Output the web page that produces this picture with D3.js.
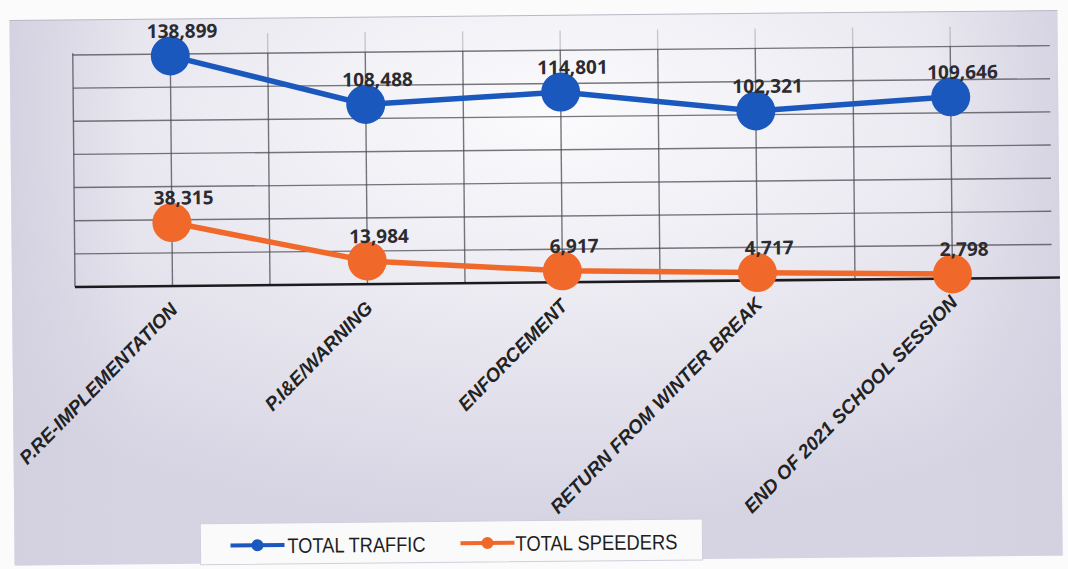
<!DOCTYPE html>
<html>
<head>
<meta charset="utf-8">
<script src="https://cdn.jsdelivr.net/npm/d3@7"></script>
<style>
  body { margin: 0; background: #fbfbfc; }
  svg { display: block; }
  .grid line { stroke: #4a4a52; stroke-width: 1.4; stroke-opacity: 0.75; }
  .dataLabel { font-family: "Open Sans", sans-serif; font-weight: 700; font-size: 19px; fill: #2b2b30; text-anchor: middle; }
  .catLabel { font-family: "Liberation Sans", sans-serif; font-weight: 700; font-style: italic; font-size: 19px; fill: #222; }
  .legendText { font-family: "Liberation Sans", sans-serif; font-size: 21px; fill: #1e1e22; }
</style>
</head>
<body>
<div id="chart"></div>
<script>
var categories = ["P.RE-IMPLEMENTATION", "P.I&E/WARNING", "ENFORCEMENT", "RETURN  FROM WINTER BREAK", "END OF 2021 SCHOOL SESSION"];
var totalTraffic = [138899, 108488, 114801, 102321, 109646];
var totalSpeeders = [38315, 13984, 6917, 4717, 2798];
var yTicks = [0, 20000, 40000, 60000, 80000, 100000, 120000, 140000];

//////////////////////////////////////////////////////////////////////////////

var width = 1068, height = 569;

var svg = d3.select("#chart").append("svg")
    .attr("width", width)
    .attr("height", height);

var defs = svg.append("defs");
var bg = defs.append("radialGradient")
    .attr("id", "bg")
    .attr("cx", "52%").attr("cy", "18%").attr("r", "75%");
bg.append("stop").attr("offset", "0%").attr("stop-color", "#fbfbfd");
bg.append("stop").attr("offset", "45%").attr("stop-color", "#ecebf2");
bg.append("stop").attr("offset", "100%").attr("stop-color", "#d6d4e3");

var side = defs.append("linearGradient").attr("id", "side");
side.append("stop").attr("offset", "0%").attr("stop-color", "#d3d1e0").attr("stop-opacity", 0.9);
side.append("stop").attr("offset", "12%").attr("stop-color", "#d3d1e0").attr("stop-opacity", 0);
side.append("stop").attr("offset", "88%").attr("stop-color", "#d3d1e0").attr("stop-opacity", 0);
side.append("stop").attr("offset", "100%").attr("stop-color", "#d3d1e0").attr("stop-opacity", 0.8);

// scanned page is slightly tilted
var g = svg.append("g").attr("transform", "rotate(-0.55 73 287)");

g.append("rect")
    .attr("x", 12).attr("y", 20)
    .attr("width", 1048).attr("height", 545)
    .attr("fill", "url(#bg)");
g.append("rect")
    .attr("x", 12).attr("y", 20)
    .attr("width", 1048).attr("height", 545)
    .attr("fill", "url(#side)");
g.append("line")
    .attr("x1", 12).attr("x2", 1060).attr("y1", 20).attr("y2", 20)
    .attr("stroke", "#b9b8c4").attr("stroke-width", 1);

var xBand = d3.scaleBand()
    .domain(categories)
    .range([75, 1050]);

var y = d3.scaleLinear()
    .domain([0, 140000])
    .range([287, 55]);

var cx = function(d){ return xBand(d) + xBand.bandwidth() / 2; };

// gridlines
var grid = g.append("g").attr("class", "grid");

grid.selectAll(".hline")
    .data(yTicks.filter(function(d){ return d > 0; }))
    .enter().append("line")
    .attr("x1", 75).attr("x2", 1052)
    .attr("y1", function(d){ return y(d); })
    .attr("y2", function(d){ return y(d); });

var vlines = [];
categories.forEach(function(c, i){
  if (i > 0) vlines.push(xBand(c));
  vlines.push(cx(c));
});
grid.selectAll(".vline")
    .data(vlines)
    .enter().append("line")
    .attr("x1", function(d){ return d; })
    .attr("x2", function(d){ return d; })
    .attr("y1", y(140000))
    .attr("y2", y(0));
grid.selectAll(".vtop")
    .data(vlines)
    .enter().append("line")
    .attr("x1", function(d){ return d; })
    .attr("x2", function(d){ return d; })
    .attr("y1", y(152000))
    .attr("y2", y(140000))
    .style("stroke-opacity", 0.25);

grid.append("line")
    .attr("x1", 75).attr("x2", 75)
    .attr("y1", y(141000)).attr("y2", y(0));

// baseline axis
var xAxis = d3.axisBottom(xBand).tickSize(0).tickFormat("");
g.append("g")
    .attr("transform", "translate(0," + y(0) + ")")
    .call(xAxis)
    .call(function(s){
      s.select(".domain").attr("stroke", "#1b1b1f").attr("stroke-width", 2.6)
        .attr("d", "M75,0H1060");
    });

// series
var series = [
  { name: "TOTAL TRAFFIC", values: totalTraffic, color: "#1a58bd", legendW: 138 },
  { name: "TOTAL SPEEDERS", values: totalSpeeders, color: "#f0692a", legendW: 162 }
];

var line = d3.line()
    .x(function(d, i){ return cx(categories[i]); })
    .y(function(d){ return y(d); });

series.forEach(function(s){
  g.append("path")
      .datum(s.values)
      .attr("d", line)
      .attr("fill", "none")
      .attr("stroke", s.color)
      .attr("stroke-width", 5.5);

  g.selectAll(null)
      .data(s.values)
      .enter().append("circle")
      .attr("cx", function(d, i){ return cx(categories[i]); })
      .attr("cy", function(d){ return y(d); })
      .attr("r", 19.5)
      .attr("fill", s.color);

  g.selectAll(null)
      .data(s.values)
      .enter().append("text")
      .attr("class", "dataLabel")
      .attr("x", function(d, i){ return cx(categories[i]) + 12; })
      .attr("y", function(d){ return y(d) - 18; })
      .text(function(d){ return d3.format(",")(d); });
});

// category labels, rotated
g.selectAll(".catLabel")
    .data(categories)
    .enter().append("text")
    .attr("class", "catLabel")
    .attr("text-anchor", "end")
    .attr("transform", function(d){ return "translate(" + (cx(d) + 6) + "," + 312 + ") rotate(-45)"; })
    .text(function(d){ return d; });

// legend
var legend = g.append("g");
legend.append("rect")
    .attr("x", 198).attr("y", 525)
    .attr("width", 502).attr("height", 41)
    .attr("fill", "#fafafb")
    .attr("stroke", "#d0cfda");

var items = [
  { s: series[0], x: 228, tx: 285 },
  { s: series[1], x: 458, tx: 513 }
];
items.forEach(function(it){
  legend.append("line")
      .attr("x1", it.x).attr("x2", it.x + 54)
      .attr("y1", 547).attr("y2", 547)
      .attr("stroke", it.s.color).attr("stroke-width", 4);
  legend.append("circle")
      .attr("cx", it.x + 27).attr("cy", 547).attr("r", 6)
      .attr("fill", it.s.color);
  legend.append("text")
      .attr("class", "legendText")
      .attr("x", it.tx).attr("y", 555)
      .attr("textLength", it.s.legendW)
      .attr("lengthAdjust", "spacingAndGlyphs")
      .text(it.s.name);
});
</script>
</body>
</html>
